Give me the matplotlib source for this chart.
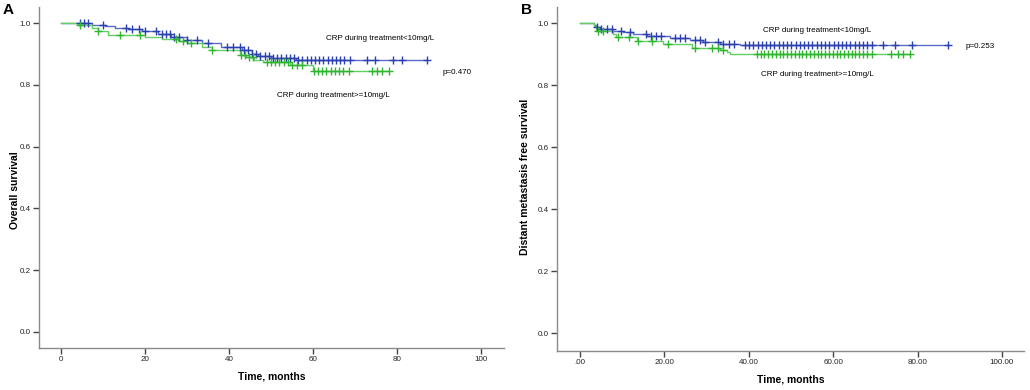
import numpy as np
import matplotlib.pyplot as plt

plt.rcParams['font.family'] = ['Liberation Sans', 'DejaVu Sans']

# ---- panel A: overall survival ----
a_blue_t = [7.5, 10.5, 12.9, 16, 19.2, 23, 26.3, 30, 33.5, 38, 43, 45.4, 47, 50, 56]
a_blue_s = [0.994, 0.99, 0.984, 0.98, 0.975, 0.966, 0.956, 0.945, 0.934, 0.923, 0.913, 0.899, 0.892, 0.886, 0.880]
a_blue_end = 87.1
a_blue_cens = [4.5, 5.6, 6.4, 10.0, 15.5, 17.0, 18.5, 20.0, 22.6, 24.0, 25.0, 26.0, 27.0, 28.0,
               30.0, 32.5, 35.0, 39.5, 41.0, 42.6, 43.6, 44.6, 45.6, 46.5, 47.5, 48.5, 49.5, 50.5,
               51.5, 52.5, 53.5, 54.5, 55.5, 56.5, 57.5, 58.5, 59.5, 60.5, 61.5, 62.5, 63.5, 64.5,
               65.5, 66.5, 67.5, 68.8, 72.9, 74.8, 79.0, 81.2, 87.1]

a_green_t = [4.1, 7.3, 8.9, 11.3, 20, 24, 27.9, 30, 33.5, 35.9, 42.6, 44, 46, 48, 54.5, 60]
a_green_s = [0.993, 0.983, 0.974, 0.963, 0.956, 0.95, 0.942, 0.934, 0.923, 0.913, 0.898, 0.89, 0.882, 0.874, 0.863, 0.845]
a_green_end = 78.0
a_green_cens = [4.5, 8.9, 14.0, 18.8, 27.5, 29.0, 31.0, 36.0, 42.8, 43.8, 44.8, 45.8,
                49.0, 50.0, 51.0, 52.0, 53.0, 54.0, 55.0, 56.2, 57.5, 60.2, 61.2, 62.2, 63.2,
                64.2, 65.2, 66.2, 67.2, 68.5, 74.0, 75.2, 76.4, 78.0]

# ---- panel B: distant metastasis free survival ----
b_blue_t = [3.2, 4, 4.7, 7.9, 10.3, 12.6, 15.8, 21.3, 26, 29.2, 33.2, 37.9]
b_blue_s = [0.994, 0.99, 0.983, 0.977, 0.972, 0.967, 0.961, 0.953, 0.945, 0.94, 0.935, 0.929]
b_blue_end = 87.3
b_blue_cens = [4.0, 5.0, 6.3, 7.5, 9.8, 11.8, 15.7, 16.9, 18.1, 19.3, 22.5, 23.7, 24.9, 27.2,
               28.4, 29.6, 32.8, 34.0, 35.2, 36.4, 39.1, 40.1, 41.1, 42.1, 43.1, 44.1, 45.1,
               46.1, 47.1, 48.1, 49.1, 50.1, 51.1, 52.1, 53.1, 54.1, 55.1, 56.1, 57.1, 58.1,
               59.1, 60.1, 61.1, 62.1, 63.1, 64.1, 65.1, 66.1, 67.1, 68.1, 69.1, 71.9, 74.6,
               78.6, 87.3]

b_green_t = [3.2, 3.9, 7.9, 8.5, 13.4, 19.7, 26.5, 33.2, 34.8, 35.5]
b_green_s = [0.991, 0.977, 0.967, 0.955, 0.942, 0.935, 0.92, 0.915, 0.907, 0.9]
b_green_end = 78.2
b_green_cens = [4.3, 5.5, 9.1, 11.5, 13.8, 17.0, 20.9, 27.2, 31.2, 32.8, 34.0, 41.9, 42.8,
                43.7, 44.6, 45.5, 46.4, 47.3, 48.2, 49.1, 50.0, 50.9, 51.8, 52.7, 53.6, 54.5,
                55.4, 56.3, 57.2, 58.1, 59.0, 59.9, 60.8, 61.7, 62.6, 63.5, 64.4, 65.3, 66.2,
                67.1, 68.0, 69.1, 73.8, 75.4, 76.6, 78.2]

blue_line, blue_mark = '#5a6cc8', '#2b3fae'
green_line, green_mark = '#62d062', '#2fb52f'


def km(ax, t, s, end, cens, lc, mc):
    tt = [0] + list(t) + [end]
    ss = [1.0] + list(s) + [s[-1]]
    ax.step(tt, ss, where='post', color=lc, lw=1.0, zorder=2)
    idx = np.searchsorted(t, cens, side='right')
    cs = np.array([1.0] + list(s))[idx]
    ax.plot(cens, cs, ls='none', marker='+', ms=5.5, mew=1.0, color=mc, zorder=3)


def style(ax, xlim, ylim, fmt):
    for sp in ['top', 'right']:
        ax.spines[sp].set_visible(False)
    for sp in ['left', 'bottom']:
        ax.spines[sp].set_color('#8a8a8a')
        ax.spines[sp].set_linewidth(1.0)
    ax.set_xlim(*xlim)
    ax.set_ylim(*ylim)
    ax.set_xticks([0, 20, 40, 60, 80, 100])
    ax.set_xticklabels([fmt(v) for v in [0, 20, 40, 60, 80, 100]])
    ax.set_yticks([0.0, 0.2, 0.4, 0.6, 0.8, 1.0])
    ax.set_yticklabels(['0.0', '0.2', '0.4', '0.6', '0.8', '1.0'])
    ax.tick_params(direction='out', length=4, width=1.0, color='#444444',
                   labelsize=5.8, pad=2, labelcolor='#222222')
    ax.set_xlabel('Time, months', fontsize=7.5, fontweight='bold', labelpad=6)


fig = plt.figure(figsize=(10.3, 3.9), dpi=100)

axA = fig.add_axes([0.0379, 0.1077, 0.4515, 0.8743])
km(axA, a_blue_t, a_blue_s, a_blue_end, a_blue_cens, blue_line, blue_mark)
km(axA, a_green_t, a_green_s, a_green_end, a_green_cens, green_line, green_mark)
style(axA, (-5.2, 105.5), (-0.052, 1.052), lambda v: f'{v:d}')
axA.set_ylabel('Overall survival', fontsize=7.5, fontweight='bold')
axA.yaxis.set_label_coords(-0.04, 0.463)
axA.text(76, 0.951, 'CRP during treatment<10mg/L', fontsize=5.8, ha='center', va='center')
axA.text(94.3, 0.839, 'p=0.470', fontsize=5.8, ha='center', va='center')
axA.text(64.8, 0.764, 'CRP during treatment>=10mg/L', fontsize=5.8, ha='center', va='center')

axB = fig.add_axes([0.5408, 0.1, 0.4532, 0.882])
km(axB, b_blue_t, b_blue_s, b_blue_end, b_blue_cens, blue_line, blue_mark)
km(axB, b_green_t, b_green_s, b_green_end, b_green_cens, green_line, green_mark)
style(axB, (-5.45, 105.2), (-0.058, 1.053), lambda v: '.00' if v == 0 else f'{v:.2f}')
axB.set_ylabel('Distant metastasis free survival', fontsize=7.5, fontweight='bold')
axB.yaxis.set_label_coords(-0.058, 0.506)
axB.text(56.2, 0.976, 'CRP during treatment<10mg/L', fontsize=5.8, ha='center', va='center')
axB.text(94.8, 0.924, 'p=0.253', fontsize=5.8, ha='center', va='center')
axB.text(56.2, 0.836, 'CRP during treatment>=10mg/L', fontsize=5.8, ha='center', va='center')

fig.text(0.003, 0.975, 'A', fontsize=11, fontweight='bold', va='center', ha='left')
fig.text(0.506, 0.975, 'B', fontsize=11, fontweight='bold', va='center', ha='left')

fig.savefig('out.png', dpi=100)
